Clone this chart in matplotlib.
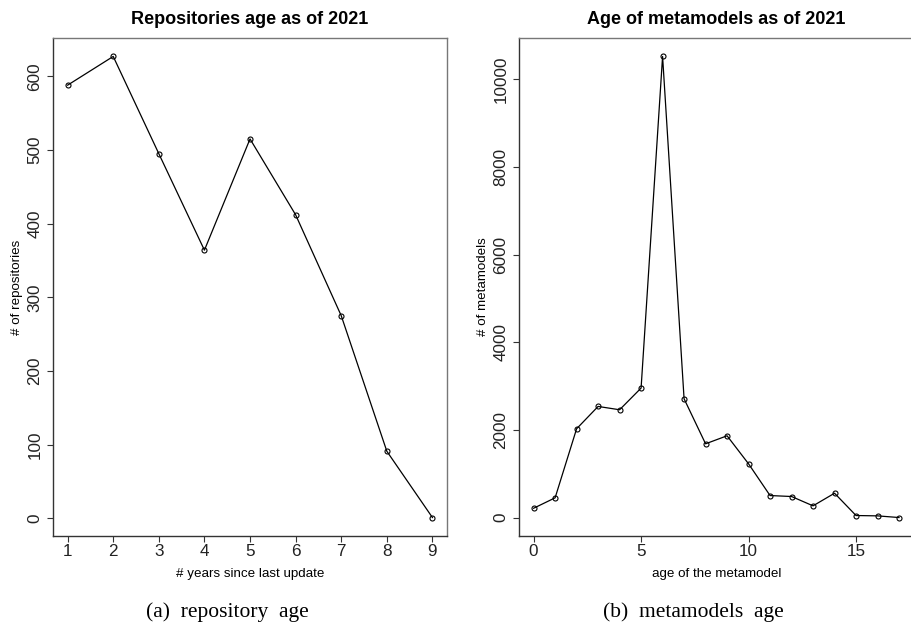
import matplotlib
matplotlib.use("Agg")
import matplotlib.pyplot as plt
import numpy as np

# data
repo_years = [1, 2, 3, 4, 5, 6, 7, 8, 9]
repo_counts = [588, 627, 495, 364, 515, 412, 275, 91, 1]

mm_age = list(range(18))
mm_counts = [212, 450, 2026, 2536, 2460, 2955, 10525, 2711, 1683, 1866,
             1226, 502, 480, 267, 555, 46, 38, 0]

plt.rcParams['font.family'] = ['Liberation Sans', 'DejaVu Sans']

fig = plt.figure(figsize=(9.11, 6.26), dpi=100)
ax1 = fig.add_axes([0.0582, 0.1438, 0.4325, 0.7955])
ax2 = fig.add_axes([0.5697, 0.1438, 0.4332, 0.7955])

def style(ax, x, y, title, xlabel, ylabel, xticks, yticks):
    ax.plot(x, y, color='black', lw=0.9, marker='o', ms=3.6,
            mfc='none', mec='black', mew=0.8)
    # R style 4% extension of the data range
    xr = max(x) - min(x)
    yr = max(y) - min(y)
    ax.set_xlim(min(x) - 0.04 * xr, max(x) + 0.04 * xr)
    ax.set_ylim(min(y) - 0.04 * yr, max(y) + 0.04 * yr)
    ax.set_xticks(xticks)
    ax.set_yticks(yticks)
    ax.tick_params(axis='both', direction='out', length=4, width=0.8,
                   color='#333333', labelsize=12.3, labelcolor='#222222')
    ax.tick_params(axis='x', pad=1.5)
    ax.tick_params(axis='y', pad=3.5)
    for lab in ax.get_yticklabels():
        lab.set_rotation(90)
        lab.set_va('center')
    for s in ['left', 'bottom']:
        ax.spines[s].set_color('#333333')
        ax.spines[s].set_linewidth(1.0)
    for s in ['top', 'right']:
        ax.spines[s].set_color('#777777')
        ax.spines[s].set_linewidth(1.0)
    ax.set_title(title, fontsize=13, fontweight='bold', pad=10)
    ax.set_xlabel(xlabel, fontsize=9.6, labelpad=7)
    ax.set_ylabel(ylabel, fontsize=9.6, labelpad=3)

style(ax1, repo_years, repo_counts, 'Repositories age as of 2021',
      '# years since last update', '# of repositories',
      repo_years, range(0, 601, 100))
style(ax2, mm_age, mm_counts, 'Age of metamodels as of 2021',
      'age of the metamodel', '# of metamodels',
      [0, 5, 10, 15], range(0, 10001, 2000))

fig.text(0.2497, 1 - 612 / 626, '(a)  repository  age', ha='center', va='center',
         fontsize=15.5, family=['Liberation Serif', 'DejaVu Serif'])
fig.text(0.7606, 1 - 612 / 626, '(b)  metamodels  age', ha='center', va='center',
         fontsize=15.5, family=['Liberation Serif', 'DejaVu Serif'])

fig.savefig('out.png', dpi=100)
